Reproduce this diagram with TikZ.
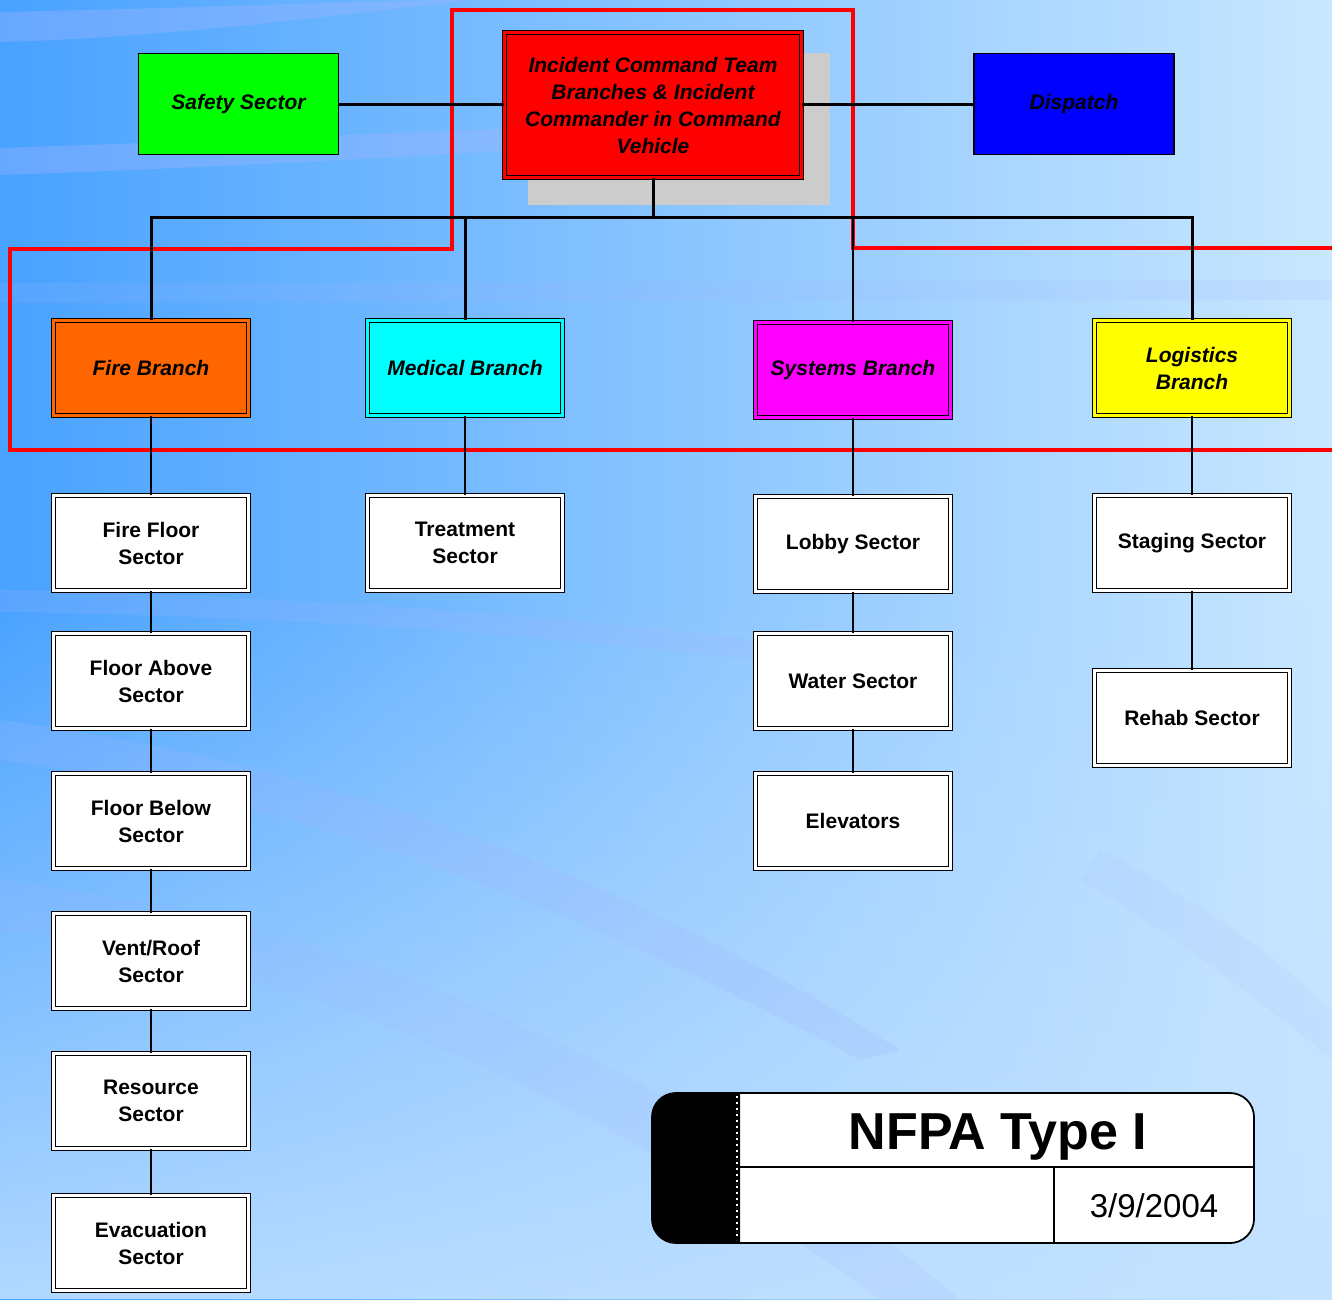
\documentclass[tikz,border=0pt]{standalone}
\usepackage{fontspec}
\setmainfont{Liberation Sans}
\usetikzlibrary{fadings}
\definecolor{bgL}{HTML}{48A2FF}
\definecolor{bgR}{HTML}{C9E7FF}
\definecolor{bgB}{HTML}{C4E2FF}
\definecolor{swoosh}{HTML}{A3B4FF}
\definecolor{shadowgray}{HTML}{CCCCCC}
\definecolor{fireorange}{HTML}{FF6600}
\definecolor{pureRed}{HTML}{FF0000}
\definecolor{pureGreen}{HTML}{00FF00}
\definecolor{pureBlue}{HTML}{0000FF}
\definecolor{pureCyan}{HTML}{00FFFF}
\definecolor{pureMagenta}{HTML}{FF00FF}
\definecolor{pureYellow}{HTML}{FFFF00}
\tikzset{
  dbox/.style={draw=black, fill=#1, double=#1, line width=1.2pt, double distance=3pt,
    inner sep=0pt, minimum width=195pt, minimum height=95pt, align=center},
  sector/.style={dbox=white, font=\fontsize{21}{27}\selectfont\bfseries},
  branch/.style={dbox=#1, font=\fontsize{21}{27}\selectfont\bfseries\itshape},
  topbox/.style={draw=black, fill=#1, line width=1.5pt, inner sep=0pt,
    minimum width=200pt, minimum height=101pt, align=center,
    font=\fontsize{21}{27}\selectfont\bfseries\itshape},
  heavy/.style={draw=black, line width=3pt},
  light/.style={draw=black, line width=1.3pt},
  redline/.style={draw=pureRed, line width=3.2pt},
  swooshband/.style={fill=swoosh, fill opacity=0.35},
}
\begin{document}
\begin{tikzpicture}[x=1pt,y=-1pt]
\useasboundingbox (0,0) rectangle (1332,1299);
% background
\shade[left color=bgL, right color=bgR] (0,0) rectangle (1332,1299);
\fill[bgB, path fading=north, fill opacity=0.85] (0,600) rectangle (1332,1299);
\fill[swooshband] (0,12) .. controls (200,8) and (380,0) .. (560,-2) -- (470,0) .. controls (300,20) and (150,38) .. (0,42) -- cycle;
\fill[swooshband] (0,148) .. controls (150,143) and (350,135) .. (520,128) -- (520,150) .. controls (350,160) and (150,170) .. (0,175) -- cycle;
\fill[swooshband, fill opacity=0.15] (0,283) -- (1332,280) -- (1332,300) -- (0,303) -- cycle;
\fill[swooshband, fill opacity=0.2] (0,590) .. controls (250,595) and (500,610) .. (760,640) -- (760,660) .. controls (500,630) and (250,615) .. (0,612) -- cycle;
\fill[swooshband, fill opacity=0.22] (0,720) .. controls (300,760) and (600,860) .. (900,1050) -- (860,1060) .. controls (560,900) and (300,800) .. (0,760) -- cycle;
\fill[swooshband, fill opacity=0.15] (0,880) .. controls (350,920) and (700,1080) .. (960,1299) -- (880,1299) .. controls (600,1100) and (300,960) .. (0,930) -- cycle;
\fill[swooshband, fill opacity=0.1] (1100,850) .. controls (1200,900) and (1280,960) .. (1332,1010) -- (1332,1060) .. controls (1260,1000) and (1180,940) .. (1080,880) -- cycle;

% red outline
\draw[redline] (1340,248) -- (853,248) -- (853,10) -- (452,10) -- (452,249) -- (10,249) -- (10,450) -- (1340,450);

% command shadow
\fill[shadowgray] (528,53) rectangle (830,205);

% top row
\node[dbox=pureRed, minimum width=297pt, minimum height=145pt,
      font=\fontsize{21}{27}\selectfont\bfseries\itshape] (cmd) at (653,105)
  {Incident Command Team\\Branches \& Incident\\Commander in Command\\Vehicle};
\node[topbox=pureGreen] (safety) at (238.5,104) {Safety Sector};
\node[topbox=pureBlue] (dispatch) at (1074,104) {Dispatch};

% branches
\node[branch=fireorange] (fire) at (151,368) {Fire Branch};
\node[branch=pureCyan] (med) at (465,368) {Medical Branch};
\node[branch=pureMagenta] (sys) at (853,370) {Systems Branch};
\node[branch=pureYellow] (logi) at (1192,368) {Logistics\\Branch};

% sectors
\node[sector] (ffloor) at (151,543) {Fire Floor\\Sector};
\node[sector] (fabove) at (151,681) {Floor Above\\Sector};
\node[sector] (fbelow) at (151,821) {Floor Below\\Sector};
\node[sector] (vent) at (151,961) {Vent/Roof\\Sector};
\node[sector] (res) at (151,1101) {Resource\\Sector};
\node[sector] (evac) at (151,1243) {Evacuation\\Sector};
\node[sector] (treat) at (465,543) {Treatment\\Sector};
\node[sector] (lobby) at (853,544) {Lobby Sector};
\node[sector] (water) at (853,681) {Water Sector};
\node[sector] (elev) at (853,821) {Elevators};
\node[sector] (stag) at (1192,543) {Staging Sector};
\node[sector] (rehab) at (1192,718) {Rehab Sector};

% connectors
\coordinate (bus) at (653,217);
\draw[heavy] (safety.east) -- (safety.east -| cmd.west);
\draw[heavy] (cmd.east |- dispatch.west) -- (dispatch.west);
\draw[heavy] (cmd.south) -- (bus);
\draw[heavy] (fire.north) |- (bus) -| (logi.north);
\draw[heavy] (med.north) -- (med.north |- bus);
\draw[light] (sys.north) -- (sys.north |- bus);
\draw[light] (fire) -- (ffloor);
\draw[light] (ffloor) -- (fabove);
\draw[light] (fabove) -- (fbelow);
\draw[light] (fbelow) -- (vent);
\draw[light] (vent) -- (res);
\draw[light] (res) -- (evac);
\draw[light] (med) -- (treat);
\draw[light] (sys) -- (lobby);
\draw[light] (lobby) -- (water);
\draw[light] (water) -- (elev);
\draw[light] (logi) -- (stag);
\draw[light] (stag) -- (rehab);

% title block
\fill[white] [rounded corners=24pt] (652,1093) rectangle (1254,1243);
\begin{scope}
  \clip (640,1080) rectangle (740,1250);
  \fill[black, rounded corners=24pt] (652,1093) rectangle (1254,1243);
\end{scope}
\draw[black, line width=1.8pt, rounded corners=24pt] (652,1093) rectangle (1254,1243);
\draw[white, line width=2pt, dash pattern=on 2pt off 4pt] (737,1096) -- (737,1240);
\coordinate (tbL) at (740,1167);
\coordinate (tbR) at (1254,1167);
\coordinate (tbM) at (1054,1167);
\coordinate (tbB) at (1054,1243);
\draw[black, line width=1.5pt] (tbL) -- (tbR);
\draw[black, line width=1.5pt] (tbM) -- (tbB);
\node[font=\fontsize{52}{60}\selectfont\bfseries] (title) at (998,1137) {NFPA Type I};
\node[font=\fontsize{33}{40}\selectfont] (date) at (1154,1206) {3/9/2004};
\end{tikzpicture}
\end{document}
